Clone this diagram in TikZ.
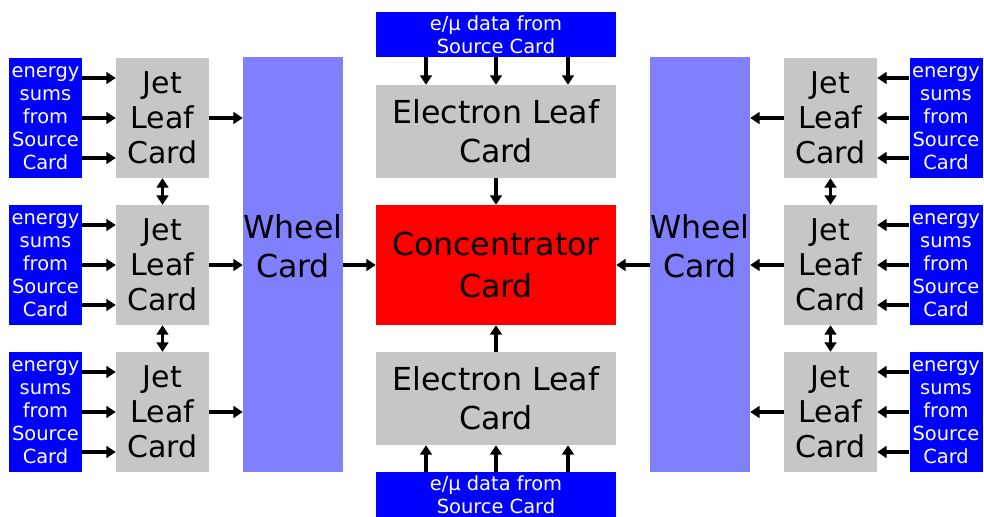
\documentclass[tikz,border=0pt]{standalone}
\usepackage{fontspec}
\setmainfont{DejaVu Sans}
\usetikzlibrary{arrows.meta}

\definecolor{srcblue}{RGB}{0,0,255}
\definecolor{wheelblue}{RGB}{128,128,255}
\definecolor{leafgray}{RGB}{198,198,198}
\definecolor{concred}{RGB}{255,0,0}

\begin{document}
\begin{tikzpicture}[x=0.03cm, y=-0.03cm,
	bigtext/.style={inner sep=0pt, align=center, font=\fontsize{25.6}{30}\selectfont},
	widetext/.style={inner sep=0pt, align=center, font=\fontsize{27}{33.5}\selectfont},
	smalltext/.style={inner sep=0pt, align=center, font=\fontsize{16.6}{19.6}\selectfont},
	sidesource/.style={smalltext, fill=srcblue, text=white, minimum width=2.19cm, minimum height=3.6cm},
	midsource/.style={smalltext, fill=srcblue, text=white, minimum width=7.2cm, minimum height=1.35cm},
	jetleaf/.style={bigtext, fill=leafgray, minimum width=2.79cm, minimum height=3.6cm},
	eleaf/.style={widetext, fill=leafgray, minimum width=7.2cm, minimum height=2.79cm},
	wheel/.style={fill=wheelblue, minimum width=3cm, minimum height=12.45cm},
	conc/.style={widetext, font=\fontsize{27}{36}\selectfont, fill=concred, minimum width=7.2cm, minimum height=3.6cm},
	link/.style={line width=3.2pt, -{Triangle[length=8pt,width=10pt]}},
	dlink/.style={line width=3.2pt, {Triangle[length=8pt,width=10pt]}-{Triangle[length=8pt,width=10pt]}},
]

	% ---- frame

	\useasboundingbox (0,0) rectangle (984,517);

	% ---- jet leaf cards and their sources

	\foreach \i/\y in {1/118,2/265,3/412} {
		\node[sidesource] (srcL\i) at (45.5,\y) {energy\\sums\\from\\Source\\Card};
		\node[jetleaf] (jetL\i) at (162.5,\y) {Jet\\Leaf\\Card};
		\node[jetleaf] (jetR\i) at (830.5,\y) {Jet\\Leaf\\Card};
		\node[sidesource] (srcR\i) at (946,\y) {energy\\sums\\from\\Source\\Card};
	}

	% ---- wheel cards

	\node[wheel] (wheelL) at (293,264.5) {};
	\node[wheel] (wheelR) at (700,264.5) {};
	\node[widetext] (wheelLtext) at ([yshift=0.54cm]wheelL.center) {Wheel\\Card};
	\node[widetext] (wheelRtext) at ([yshift=0.54cm]wheelR.center) {Wheel\\Card};

	% ---- centre column

	\node[midsource] (srcT) at (496,34.5) {e/μ data from\\Source Card};
	\node[eleaf] (elecT) at (496,131.5) {Electron Leaf\\Card};
	\node[conc] (conc) at (496,265) {Concentrator\\Card};
	\node[eleaf] (elecB) at (496,398.5) {Electron Leaf\\Card};
	\node[midsource] (srcB) at (496,494.5) {e/μ data from\\Source Card};

	% ---- energy sums into jet leaf cards

	\foreach \i in {1,2,3} {
		\foreach \s in {1.2cm,0cm,-1.2cm} {
			\draw[link] ([yshift=\s]srcL\i.east) -- ([yshift=\s]jetL\i.west);
			\draw[link] ([yshift=\s]srcR\i.west) -- ([yshift=\s]jetR\i.east);
		}
		\draw[link] (jetL\i.east) -- (jetL\i.east -| wheelL.west);
		\draw[link] (jetR\i.west) -- (jetR\i.west -| wheelR.east);
	}

	% ---- links between jet leaf cards

	\draw[dlink] (jetL1.south) -- (jetL2.north);
	\draw[dlink] (jetL2.south) -- (jetL3.north);
	\draw[dlink] (jetR1.south) -- (jetR2.north);
	\draw[dlink] (jetR2.south) -- (jetR3.north);

	% ---- e/mu data into electron leaf cards

	\foreach \s in {-2.1cm,0cm,2.16cm} {
		\draw[link] ([xshift=\s]srcT.south) -- ([xshift=\s]elecT.north);
		\draw[link] ([xshift=\s]srcB.north) -- ([xshift=\s]elecB.south);
	}

	% ---- into the concentrator

	\draw[link] (elecT.south) -- (conc.north);
	\draw[link] (elecB.north) -- (conc.south);
	\draw[link] (conc.west -| wheelL.east) -- (conc.west);
	\draw[link] (conc.east -| wheelR.west) -- (conc.east);

\end{tikzpicture}
\end{document}
